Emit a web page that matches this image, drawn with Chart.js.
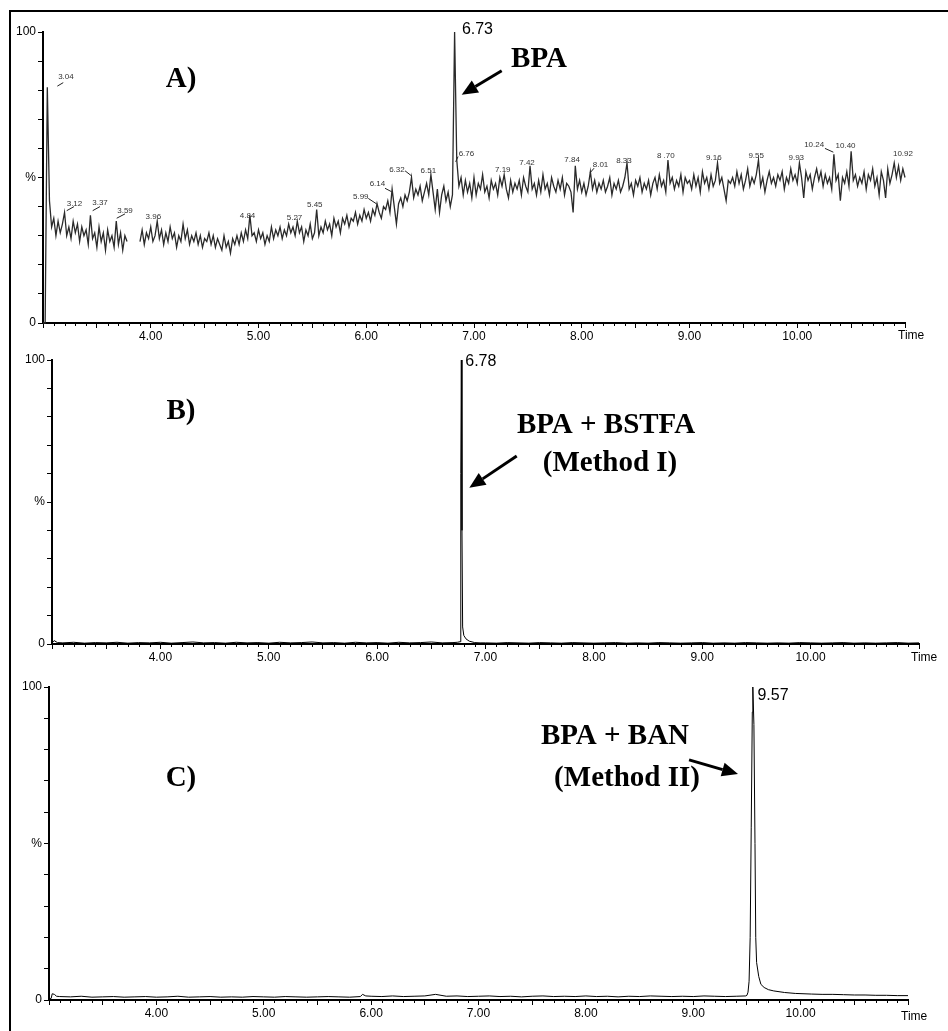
<!DOCTYPE html>
<html>
<head>
<meta charset="utf-8">
<script src="https://cdn.jsdelivr.net/npm/chart.js@4/dist/chart.umd.min.js"></script>
<style>
  html, body { margin: 0; padding: 0; background: #fff; }
  #wrap { position: relative; width: 948px; height: 1031px; overflow: hidden; }
  #wrap canvas { position: absolute; left: 0; top: 0; }
  #frame { position: absolute; left: 9px; top: 10px; width: 960px; height: 1040px;
           border-left: 2px solid #000; border-top: 2px solid #000; }
</style>
</head>
<body>
<div id="wrap">
  <div id="frame"></div>
  <canvas id="chartA" width="948" height="1031"></canvas>
  <canvas id="chartB" width="948" height="1031"></canvas>
  <canvas id="chartC" width="948" height="1031"></canvas>
</div>
<script>
// ---- data ----

// axis ticks
const xMajorTicks = [3.0, 3.5, 4.0, 4.5, 5.0, 5.5, 6.0, 6.5, 7.0, 7.5, 8.0, 8.5, 9.0, 9.5, 10.0, 10.5, 11.0];
const xTickLabels = { 4: "4.00", 5: "5.00", 6: "6.00", 7: "7.00", 8: "8.00", 9: "9.00", 10: "10.00" };
const yTickValues = [0, 10, 20, 30, 40, 50, 60, 70, 80, 90, 100];
const yTickLabels = { 0: "0", 50: "%", 100: "100" };

// A) raw sample, one value every 0.02 min starting at 3.00 min (null = gap in trace)
const startA = 3.0;
const stepA = 0.02;
const valuesA = [
  0, 0, 81, 42, 33, 36, 30, 35, 31, 34,
  38, 30, 33, 29, 35, 31, 34, 28, 33, 30,
  32, 27, 37, 29, 31, 26, 33, 28, 31, 25,
  32, 28, 30, 26, 35, 27, 31, 25, 30, 28,
  null, null, null, null, null, 28, 32, 27, 31, 29,
  33, 28, 30, 35, 29, 32, 27, 31, 28, 33,
  29, 31, 26, 30, 28, 34, 29, 32, 27, 30,
  28, 31, 27, 30, 26, 29, 28, 31, 27, 30,
  26, 29, 27, 25, 30, 26, 28, 24, 29, 27,
  30, 27, 31, 28, 32, 29, 37, 30, 31, 28,
  32, 29, 31, 27, 30, 28, 33, 29, 32, 30,
  33, 29, 32, 30, 34, 31, 33, 30, 35, 31,
  33, 28, 32, 30, 34, 29, 31, 39, 30, 33,
  31, 35, 32, 34, 30, 36, 33, 35, 31, 36,
  34, 37, 33, 36, 35, 38, 34, 37, 35, 39,
  36, 38, 35, 39, 37, 41, 38, 36, 40, 39,
  42, 38, 46, 40, 34, 41, 43, 40, 44, 42,
  45, 50, 43, 46, 44, 47, 42, 45, 48, 44,
  51, 45, 39, 46, 38, 44, 47, 42, 45, 40,
  44, 100, 56, 47, 50, 44, 49, 45, 48, 43,
  50, 44, 48, 46, 51, 45, 47, 43, 49, 46,
  48, 44, 50, 47, 51, 46, 43, 49, 45, 48,
  46, 49, 44, 50, 47, 45, 54, 46, 48, 44,
  49, 45, 51, 46, 48, 44, 50, 47, 45, 49,
  46, 50, 44, 48, 47, 45, 38, 54, 46, 49,
  45, 48, 44, 47, 52, 46, 49, 45, 48, 46,
  49, 45, 47, 50, 44, 48, 46, 49, 45, 47,
  50, 55, 46, 48, 44, 49, 47, 50, 45, 48,
  46, 49, 44, 48, 50, 46, 51, 47, 49, 45,
  56, 48, 50, 46, 49, 47, 51, 45, 50, 48,
  49, 46, 51, 47, 50, 45, 52, 48, 50, 46,
  51, 47, 49, 55, 48, 50, 46, 42, 49, 48,
  50, 47, 52, 48, 51, 46, 49, 53, 47, 50,
  48, 51, 56, 47, 50, 45, 49, 52, 48, 50,
  47, 51, 49, 52, 46, 50, 48, 53, 49, 51,
  48, 55, 50, 43, 52, 49, 51, 46, 50, 53,
  49, 52, 47, 51, 48, 50, 46, 58, 49, 51,
  42, 50, 48, 52, 47, 59, 49, 51, 47, 50,
  48, 52, 46, 51, 49, 53, 47, 50, 44, 52,
  49, 43, 53, 48, 51, 55, 50, 54, 49, 53,
  50, 57, 51, 55, 52
];

// B) BPA + BSTFA (Method I)
const timesB = [
  3.00, 3.02, 3.05, 3.10, 3.20, 3.30, 3.40, 3.50, 3.60, 3.70, 3.80, 3.90,
  4.00, 4.10, 4.20, 4.30, 4.40, 4.50, 4.60, 4.70, 4.80, 4.90,
  5.00, 5.10, 5.20, 5.30, 5.40, 5.50, 5.60, 5.70, 5.80, 5.90,
  6.00, 6.10, 6.20, 6.30, 6.40, 6.50, 6.60, 6.70, 6.74,
  6.765, 6.772, 6.777, 6.783, 6.789, 6.80, 6.82, 6.85, 6.90, 6.95,
  7.00, 7.10, 7.20, 7.30, 7.40, 7.50, 7.60, 7.70, 7.80, 7.90,
  8.00, 8.10, 8.20, 8.30, 8.40, 8.50, 8.60, 8.70, 8.80, 8.90,
  9.00, 9.10, 9.20, 9.30, 9.40, 9.50, 9.60, 9.70, 9.80, 9.90,
  10.00, 10.10, 10.20, 10.30, 10.40, 10.50, 10.60, 10.70, 10.80, 10.90, 11.00
];
const valuesB = [
  0.3, 1.2, 0.5, 0.4, 0.6, 0.3, 0.5, 0.4, 0.6, 0.3, 0.5, 0.4,
  0.6, 0.3, 0.5, 0.7, 0.4, 0.5, 0.3, 0.6, 0.4, 0.5,
  0.3, 0.6, 0.4, 0.5, 0.7, 0.4, 0.5, 0.3, 0.6, 0.4,
  0.5, 0.3, 0.6, 0.4, 0.5, 0.7, 0.4, 0.5, 0.6,
  0.8, 60, 100, 40, 6, 3, 1.8, 1.0, 0.5, 0.4,
  0.4, 0.3, 0.5, 0.4, 0.3, 0.5, 0.4, 0.3, 0.5, 0.4,
  0.3, 0.4, 0.5, 0.3, 0.4, 0.3, 0.5, 0.4, 0.3, 0.4,
  0.5, 0.3, 0.4, 0.3, 0.5, 0.4, 0.3, 0.4, 0.3, 0.5,
  0.4, 0.3, 0.4, 0.5, 0.3, 0.4, 0.3, 0.4, 0.5, 0.3, 0.4
];

// C) BPA + BAN (Method II)
const timesC = [
  3.00, 3.02, 3.03, 3.05, 3.07, 3.10, 3.20, 3.30, 3.40, 3.50, 3.60, 3.70, 3.80, 3.90,
  4.00, 4.10, 4.20, 4.30, 4.40, 4.50, 4.60, 4.70, 4.80, 4.90,
  5.00, 5.10, 5.20, 5.30, 5.40, 5.50, 5.60, 5.70, 5.80, 5.90, 5.92, 5.95,
  6.00, 6.10, 6.20, 6.30, 6.40, 6.50, 6.60, 6.70, 6.80, 6.90,
  7.00, 7.10, 7.20, 7.30, 7.40, 7.50, 7.60, 7.70, 7.80, 7.90,
  8.00, 8.10, 8.20, 8.30, 8.40, 8.50, 8.60, 8.70, 8.80, 8.90,
  9.00, 9.10, 9.20, 9.30, 9.40, 9.49, 9.50, 9.51, 9.52, 9.53, 9.54, 9.55, 9.555,
  9.565, 9.575, 9.582, 9.59, 9.61, 9.63, 9.66, 9.70, 9.75, 9.85, 9.95,
  10.10, 10.20, 10.30, 10.40, 10.50, 10.60, 10.70, 10.80, 10.90, 11.00
];
const valuesC = [
  0.3, 0.5, 2.0, 1.8, 1.2, 1.1, 1.0, 1.2, 0.9, 1.0, 1.1, 0.9, 1.0, 1.1,
  0.9, 1.0, 1.2, 0.9, 1.0, 1.1, 0.9, 1.0, 0.9, 1.1,
  1.0, 0.9, 1.1, 1.0, 0.9, 1.0, 1.1, 1.0, 0.9, 1.1, 1.8, 1.3,
  1.2, 1.1, 1.3, 1.1, 1.2, 1.3, 1.8, 1.2, 1.3, 1.1,
  1.2, 1.3, 1.1, 1.2, 1.0, 1.2, 1.3, 1.1, 1.2, 1.1,
  1.3, 1.1, 1.2, 1.0, 1.2, 1.1, 1.3, 1.2, 1.1, 1.2,
  1.1, 1.3, 1.2, 1.1, 1.2, 1.3, 1.5, 2.5, 6, 20, 55, 92, 100,
  88, 50, 20, 12, 7.5, 5, 4, 3.3, 2.9, 2.4, 2.1,
  1.9, 1.8, 1.8, 1.7, 1.6, 1.6, 1.5, 1.5, 1.4, 1.4
];

// ---- annotations (anchored in data units) ----
const bigFont = "bold 29px 'Liberation Serif', 'Times New Roman', serif";
const midFont = "16px 'Liberation Sans', Arial, sans-serif";
const tinyFont = "8px 'Liberation Sans', Arial, sans-serif";

const peakLabelsA = [
  ["3.04", 3.213, 84.7], ["3.12", 3.292, 41.1], ["3.37", 3.529, 41.2], ["3.59", 3.761, 38.5],
  ["3.96", 4.024, 36.5], ["4.84", 4.898, 36.9], ["5.27", 5.334, 36.1], ["5.45", 5.522, 40.5],
  ["5.99", 5.949, 43.5], ["6.14", 6.104, 48.0], ["6.32", 6.285, 52.8], ["6.51", 6.576, 52.2],
  ["6.76", 6.930, 58.3], ["7.19", 7.267, 52.8], ["7.42", 7.492, 55.2], ["7.84", 7.910, 56.0],
  ["8.01", 8.174, 54.5], ["8.33", 8.392, 55.8], ["8 .70", 8.780, 57.4], ["9.16", 9.226, 56.6],
  ["9.55", 9.619, 57.4], ["9.93", 9.991, 56.6], ["10.24", 10.157, 61.2], ["10.40", 10.448, 60.8],
  ["10.92", 10.981, 58.3]
];
const leadersA = [
  [3.133, 81.4, 3.188, 82.6], [3.220, 38.6, 3.288, 40.0], [3.461, 38.6, 3.529, 40.0],
  [3.684, 36.0, 3.761, 37.5], [6.019, 42.8, 6.097, 40.9], [6.174, 46.3, 6.236, 45.1],
  [6.360, 52.3, 6.422, 50.5], [6.852, 57.2, 6.830, 55.4], [8.114, 53.2, 8.077, 51.6],
  [10.257, 60.0, 10.335, 58.7]
];

function buildSeries(times, values) {
  return times.map((t, i) => ({ x: t, y: values[i] }));
}
const timesA = valuesA.map((v, i) => +(startA + i * stepA).toFixed(2));

const annotPlugin = {
  id: "annot",
  afterDraw(chart, args, opts) {
    const ctx = chart.ctx;
    const xs = chart.scales.x;
    const ys = chart.scales.y;
    const px = t => xs.getPixelForValue(t);
    const py = v => ys.getPixelForValue(v);
    ctx.save();

    // minor time ticks every 0.1 min
    ctx.strokeStyle = "#000";
    ctx.lineWidth = 1;
    for (let k = 31; k < 110; k++) {
      if (k % 5 === 0) continue;
      const x = Math.round(px(k / 10)) + 0.5;
      ctx.beginPath();
      ctx.moveTo(x, ys.bottom);
      ctx.lineTo(x, ys.bottom + 3);
      ctx.stroke();
    }

    // "Time" axis caption
    ctx.fillStyle = "#000";
    ctx.font = "12px 'Liberation Sans', Arial, sans-serif";
    ctx.textAlign = "left";
    ctx.textBaseline = "middle";
    ctx.fillText("Time", xs.right + opts.timeDx, ys.bottom + opts.timeDy);

    // texts
    ctx.textAlign = "center";
    (opts.texts || []).forEach(([text, t, v, font, color]) => {
      ctx.font = font;
      ctx.fillStyle = color || "#000";
      ctx.fillText(text, px(t), py(v));
    });

    // short leader lines
    ctx.strokeStyle = "#222";
    ctx.lineWidth = 1;
    (opts.leaders || []).forEach(([t1, v1, t2, v2]) => {
      ctx.beginPath();
      ctx.moveTo(px(t1), py(v1));
      ctx.lineTo(px(t2), py(v2));
      ctx.stroke();
    });

    // arrows
    (opts.arrows || []).forEach(([t1, v1, t2, v2]) => {
      const x1 = px(t1), y1 = py(v1), x2 = px(t2), y2 = py(v2);
      const a = Math.atan2(y2 - y1, x2 - x1);
      const head = 16, half = 7;
      const bx = x2 - head * Math.cos(a), by = y2 - head * Math.sin(a);
      ctx.strokeStyle = "#000";
      ctx.lineWidth = 3;
      ctx.beginPath();
      ctx.moveTo(x1, y1);
      ctx.lineTo(bx, by);
      ctx.stroke();
      ctx.fillStyle = "#000";
      ctx.beginPath();
      ctx.moveTo(x2, y2);
      ctx.lineTo(bx + half * Math.sin(a), by - half * Math.cos(a));
      ctx.lineTo(bx - half * Math.sin(a), by + half * Math.cos(a));
      ctx.closePath();
      ctx.fill();
    });
    ctx.restore();
  }
};

function makeChart(id, points, box, color, width, annot) {
  return new Chart(document.getElementById(id), {
    type: "line",
    data: {
      datasets: [{
        data: points,
        borderColor: color,
        borderWidth: width,
        pointRadius: 0,
        tension: 0,
        spanGaps: false,
        clip: false
      }]
    },
    options: {
      responsive: false,
      animation: false,
      devicePixelRatio: 1,
      layout: {
        padding: { left: box.left - 40, right: 948 - box.right, top: box.top, bottom: 1031 - box.bottom - 30 }
      },
      plugins: {
        legend: { display: false },
        tooltip: { enabled: false },
        annot: annot
      },
      scales: {
        x: {
          type: "linear",
          min: 3,
          max: 11,
          afterFit: s => { s.height = 30; },
          afterBuildTicks: s => { s.ticks = xMajorTicks.map(v => ({ value: v })); },
          grid: { drawOnChartArea: false, drawTicks: true, tickLength: 5, color: "#000", lineWidth: 1 },
          border: { display: true, color: "#000", width: 2 },
          ticks: {
            autoSkip: false,
            maxRotation: 0,
            padding: 1,
            color: "#000",
            font: { family: "'Liberation Sans', Arial, sans-serif", size: 12 },
            callback: v => xTickLabels[Math.round(v * 10) / 10] || ""
          }
        },
        y: {
          min: 0,
          max: 100,
          afterFit: s => { s.width = 40; },
          afterBuildTicks: s => { s.ticks = yTickValues.map(v => ({ value: v })); },
          grid: { drawOnChartArea: false, drawTicks: true, tickLength: 5, color: "#000", lineWidth: 1 },
          border: { display: true, color: "#000", width: 2 },
          ticks: {
            autoSkip: false,
            padding: 2,
            color: "#000",
            font: { family: "'Liberation Sans', Arial, sans-serif", size: 12 },
            callback: v => yTickLabels[v] || ""
          }
        }
      }
    },
    plugins: [annotPlugin]
  });
}

makeChart("chartA", buildSeries(timesA, valuesA),
  { left: 43, right: 905, top: 32, bottom: 323 }, "#2a2a2a", 1.3,
  {
    timeDx: -7, timeDy: 13,
    texts: [
      ["A)", 4.281, 83.8, bigFont],
      ["BPA", 7.603, 90.7, bigFont],
      ["6.73", 7.032, 100.7, midFont]
    ].concat(peakLabelsA.map(([s, t, v]) => [s, t, v, tinyFont, "#333"])),
    leaders: leadersA,
    arrows: [[7.257, 86.7, 6.886, 78.4]]
  });

makeChart("chartB", buildSeries(timesB, valuesB),
  { left: 52, right: 919, top: 360, bottom: 644 }, "#000", 1,
  {
    timeDx: -8, timeDy: 14,
    texts: [
      ["B)", 4.190, 82.0, bigFont],
      ["BPA + BSTFA", 8.112, 77.1, bigFont],
      ["(Method I)", 8.149, 63.7, bigFont],
      ["6.78", 6.957, 99.3, midFont]
    ],
    arrows: [[7.288, 66.2, 6.851, 55.0]]
  });

makeChart("chartC", buildSeries(timesC, valuesC),
  { left: 49, right: 908, top: 687, bottom: 1000 }, "#000", 1,
  {
    timeDx: -7, timeDy: 17,
    texts: [
      ["C)", 4.229, 70.9, bigFont],
      ["BPA + BAN", 8.271, 84.3, bigFont],
      ["(Method II)", 8.383, 70.9, bigFont],
      ["9.57", 9.743, 97.1, midFont]
    ],
    arrows: [[8.961, 76.7, 9.417, 72.2]]
  });
</script>
</body>
</html>
